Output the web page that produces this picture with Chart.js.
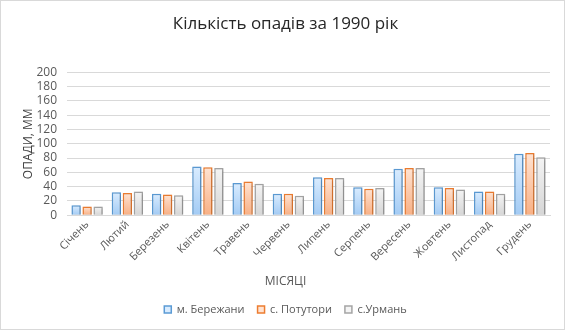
<!DOCTYPE html>
<html>
<head>
<meta charset="utf-8">
<script src="https://cdn.jsdelivr.net/npm/chart.js@4/dist/chart.umd.min.js"></script>
<style>
  html, body { margin: 0; padding: 0; background: #fff; }
  #wrap { width: 565px; height: 330px; box-sizing: border-box; border: 1px solid #d9d9d9; position: relative; }
</style>
</head>
<body>
<div id="wrap"><canvas id="chart"></canvas></div>
<script>
// Дані з графіка
const misyatsi = ['Січень', 'Лютий', 'Березень', 'Квітень', 'Травень', 'Червень',
    'Липень', 'Серпень', 'Вересень', 'Жовтень', 'Листопад', 'Грудень'];
const berezhany = [14, 32, 30, 68, 45, 30, 53, 39, 65, 39, 33, 86];
const potutory  = [12, 31, 29, 67, 47, 30, 52, 37, 66, 38, 33, 87];
const urman     = [12, 33, 28, 66, 44, 27, 52, 38, 66, 36, 30, 81];
const yTicks = [0, 20, 40, 60, 80, 100, 120, 140, 160, 180, 200];

const FONT = 'Open Sans';
const grey = '#595959';

// кольори: [верх, низ, рамка]
const kolory = {
    blue:   ['#d9ecff', '#a3cbf4', '#5b9bd5'],
    orange: ['#ffe3d2', '#f8b085', '#ed7d31'],
    gray:   ['#f4f4f4', '#d6d6d6', '#a5a5a5']
};

// градієнт на кожен стовпчик окремо
function gradient(c, k) {
    const chart = c.chart;
    if (!chart.chartArea || c.raw === undefined) return k[1];
    const y = chart.scales.y;
    const top = y.getPixelForValue(c.raw);
    const bot = y.getPixelForValue(0);
    if (!isFinite(top) || bot - top < 1) return k[1];
    const g = chart.ctx.createLinearGradient(0, top, 0, bot);
    g.addColorStop(0, k[0]);
    g.addColorStop(1, k[1]);
    return g;
}

function seria(label, data, k) {
    return {
        label, data,
        backgroundColor: c => gradient(c, k),
        borderColor: k[2],
        borderWidth: 1.5,
        categoryPercentage: 0.82,
        barPercentage: 0.85
    };
}

// тінь під стовпчиками
const tin = {
    id: 'tin',
    beforeDatasetsDraw(chart) {
        const ctx = chart.ctx;
        ctx.save();
        ctx.shadowColor = 'rgba(0,0,0,0.22)';
        ctx.shadowBlur = 3;
        ctx.shadowOffsetX = 1;
        ctx.shadowOffsetY = 1;
    },
    afterDatasetsDraw(chart) {
        chart.ctx.restore();
    }
};

new Chart(document.getElementById('chart'), {
    type: 'bar',
    data: {
        labels: misyatsi,
        datasets: [
            seria('м. Бережани', berezhany, kolory.blue),
            seria('с. Потутори', potutory, kolory.orange),
            seria('с.Урмань', urman, kolory.gray)
        ]
    },
    plugins: [tin],
    options: {
        responsive: true,
        maintainAspectRatio: false,
        animation: false,
        layout: { padding: { left: 20, right: 14, top: 6, bottom: 4 } },
        plugins: {
            title: {
                display: true,
                text: 'Кількість опадів за 1990 рік',
                color: '#262626',
                font: { family: FONT, size: 17, weight: 'normal' },
                padding: { top: 7, bottom: 38 }
            },
            // назва осі X по центру всього графіка, як в Excel
            subtitle: {
                display: true,
                position: 'bottom',
                weight: 500,
                text: 'МІСЯЦІ',
                color: grey,
                font: { family: FONT, size: 12, weight: 'normal' },
                padding: { top: 8, bottom: 2 }
            },
            legend: {
                position: 'bottom',
                labels: {
                    color: grey,
                    font: { family: FONT, size: 11 },
                    boxWidth: 7,
                    boxHeight: 7,
                    padding: 13,
                    generateLabels(chart) {
                        const ks = [kolory.blue, kolory.orange, kolory.gray];
                        return chart.data.datasets.map((d, i) => ({
                            text: d.label,
                            fillStyle: ks[i][0],
                            strokeStyle: ks[i][2],
                            lineWidth: 1.5,
                            fontColor: grey,
                            datasetIndex: i
                        }));
                    }
                }
            },
            tooltip: { enabled: false }
        },
        scales: {
            x: {
                grid: { display: false, drawTicks: false },
                border: { color: '#d9d9d9' },
                ticks: {
                    color: grey,
                    font: { family: FONT, size: 11 },
                    maxRotation: 45,
                    minRotation: 45,
                    padding: 3
                }
            },
            y: {
                min: 0,
                max: 200,
                afterBuildTicks(axis) { axis.ticks = yTicks.map(v => ({ value: v })); },
                afterFit(axis) { axis.width = 46; },
                grid: { color: '#d9d9d9', drawTicks: false },
                border: { display: false },
                ticks: {
                    color: grey,
                    font: { family: FONT, size: 12 },
                    padding: 10,
                    autoSkip: false
                },
                title: {
                    display: true,
                    text: 'ОПАДИ, ММ',
                    color: '#404040',
                    font: { family: FONT, size: 12 },
                    padding: { top: 0, bottom: 0 }
                }
            }
        }
    }
});
</script>
</body>
</html>
